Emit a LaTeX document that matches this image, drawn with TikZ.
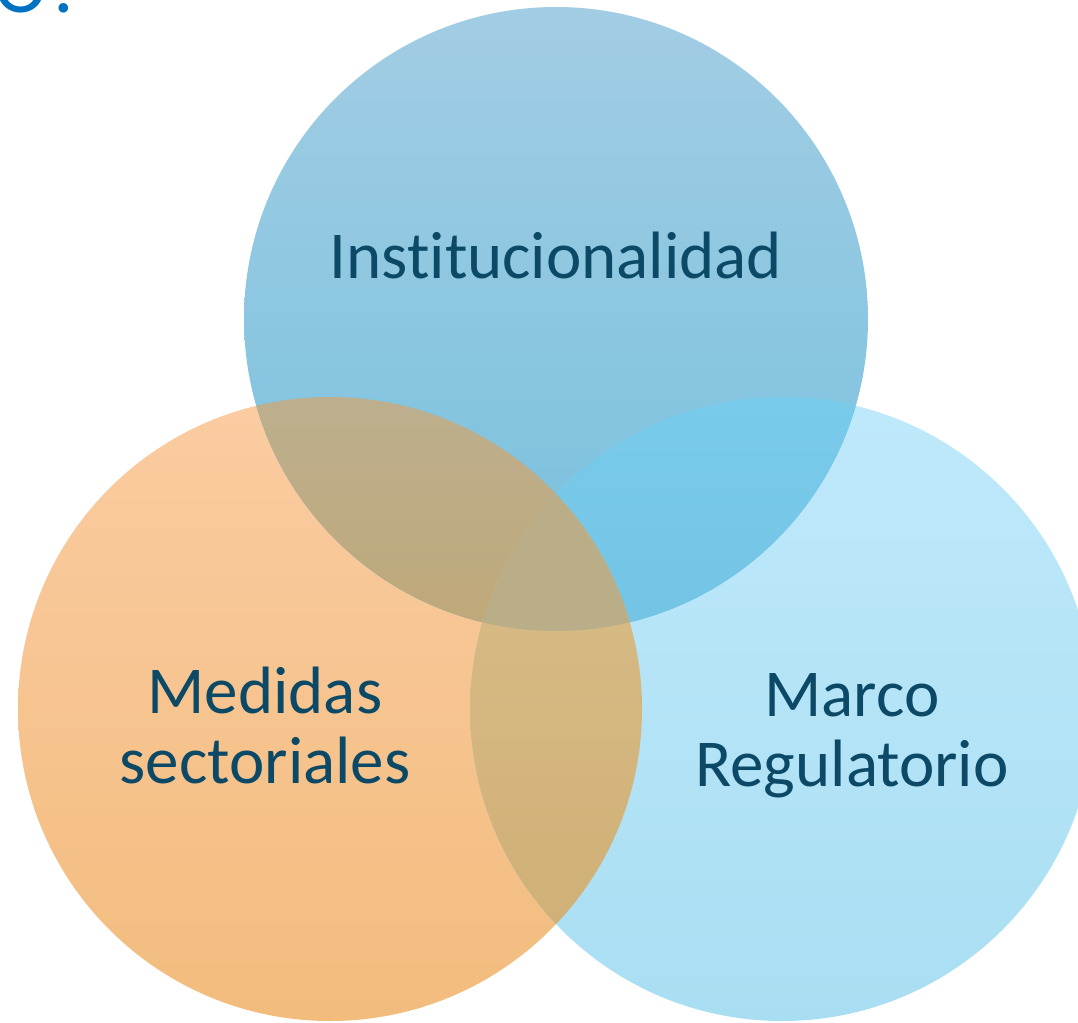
\documentclass[tikz,border=0pt]{standalone}
\usepackage{fontspec}
\setmainfont{Carlito}[Ligatures={NoCommon}]
\definecolor{labelcol}{HTML}{0B4966}
\definecolor{titlecol}{HTML}{0070C0}
\definecolor{instA}{HTML}{A2CDE4}
\definecolor{instB}{HTML}{76C0DD}
\definecolor{sectA}{HTML}{FBCCA2}
\definecolor{sectM}{HTML}{FDC383}
\definecolor{sectB}{HTML}{F2BC7D}
\definecolor{marcoA}{HTML}{BFE9FB}
\definecolor{marcoB}{HTML}{A9DEF2}
\definecolor{instsectA}{HTML}{BDAF8F}
\definecolor{instsectB}{HTML}{BFA878}
\definecolor{instmarcoA}{HTML}{79CBEC}
\definecolor{instmarcoB}{HTML}{73C3E4}
\definecolor{sectmarcoA}{HTML}{D9BD88}
\definecolor{sectmarcoB}{HTML}{CFB076}
\definecolor{allthree}{HTML}{B9AE87}
\tikzstyle{inst fill}=[top color=instA, bottom color=instB]
\tikzstyle{sect fill}=[top color=sectA, middle color=sectM, bottom color=sectB]
\tikzstyle{marco fill}=[top color=marcoA, bottom color=marcoB]
\tikzstyle{label text}=[text=labelcol, font=\fontsize{67}{70}\selectfont, align=center, inner sep=0pt]

\begin{document}
\begin{tikzpicture}[x=1pt, y=-1pt]
    \useasboundingbox (0,0) rectangle (1078,1022);
    \clip (0,0) rectangle (1078,1022);
    \def\rad{312pt}
    \coordinate (inst) at (556,319);
    \coordinate (sect) at (330,709);
    \coordinate (marco) at (782,709);
    \path[sect fill] (sect) circle (\rad);
    \path[marco fill] (marco) circle (\rad);
    \path[inst fill] (inst) circle (\rad);

    % overlaps
    \begin{scope}
        \clip (inst) circle (\rad);
        \clip (sect) circle (\rad);
        \path[top color=instsectA, bottom color=instsectB] (240,390) rectangle (560,640);
    \end{scope}
    \begin{scope}
        \clip (inst) circle (\rad);
        \clip (marco) circle (\rad);
        \path[top color=instmarcoA, bottom color=instmarcoB] (550,390) rectangle (870,640);
    \end{scope}
    \begin{scope}
        \clip (sect) circle (\rad);
        \clip (marco) circle (\rad);
        \path[top color=sectmarcoA, bottom color=sectmarcoB] (465,500) rectangle (650,935);
        \clip (inst) circle (\rad);
        \fill[allthree] (465,480) rectangle (650,640);
    \end{scope}

    % labels
    \node[label text, anchor=base] (instlabel) at (556,278) {Institucionalidad};
    \node[label text] (sectlabel) at (265,725) {Medidas\\sectoriales};
    \node[label text] (marcolabel) at (852,736) {Marco\\Regulatorio};
    \node[text=titlecol, font=\fontsize{80}{80}\selectfont, anchor=base west, inner sep=0pt] (title) at (-6,13) {O?};
\end{tikzpicture}
\end{document}
